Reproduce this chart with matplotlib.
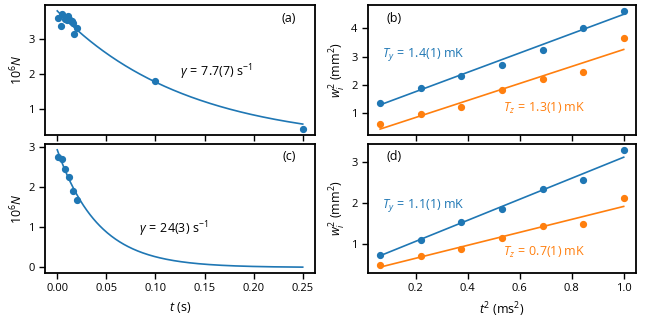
import numpy as np
import matplotlib
matplotlib.use('Agg')
import matplotlib.pyplot as plt

plt.rcParams['font.family'] = ['Open Sans', 'DejaVu Sans']
plt.rcParams['mathtext.fontset'] = 'custom'
plt.rcParams['mathtext.rm'] = 'Open Sans'
plt.rcParams['mathtext.it'] = 'Open Sans:italic'
plt.rcParams['font.size'] = 8

BLUE = '#1f77b4'
ORANGE = '#ff7f0e'

# panel (a): atom number decay
t_a = [0.001, 0.0034, 0.005, 0.008, 0.0095, 0.011, 0.012, 0.0135, 0.015, 0.016, 0.0172, 0.0197, 0.1, 0.25]
n_a = [3.61, 3.37, 3.70, 3.56, 3.55, 3.66, 3.58, 3.52, 3.50, 3.44, 3.14, 3.30, 1.78, 0.41]
amp_a, gamma_a = 3.8, 7.7

# panel (c)
t_c = [0.0005, 0.0045, 0.008, 0.012, 0.0165, 0.0205]
n_c = [2.73, 2.69, 2.45, 2.24, 1.91, 1.675]
amp_c, gamma_c = 2.92, 24.0

# panels (b), (d): cloud width squared vs t^2
t2 = [0.0625, 0.21875, 0.375, 0.53125, 0.6875, 0.84375, 1.0]
wy_b = [1.38, 1.90, 2.32, 2.71, 3.23, 4.01, 4.61]
wz_b = [0.62, 0.98, 1.23, 1.82, 2.20, 2.47, 3.67]
fit_y_b = (1.09, 3.40)  # intercept, slope
fit_z_b = (0.263, 2.99)

wy_d = [0.73, 1.08, 1.54, 1.84, 2.34, 2.55, 3.30]
wz_d = [0.48, 0.69, 0.86, 1.13, 1.42, 1.47, 2.11]
fit_y_d = (0.539, 2.58)
fit_z_d = (0.321, 1.59)

fig = plt.figure(figsize=(6.5, 3.25), dpi=100)
ax_a = fig.add_axes([0.0692, 0.5846, 0.4154, 0.4])
ax_c = fig.add_axes([0.0692, 0.16, 0.4154, 0.397], sharex=ax_a)
ax_b = fig.add_axes([0.566, 0.5846, 0.4123, 0.4])
ax_d = fig.add_axes([0.566, 0.16, 0.4123, 0.397], sharex=ax_b)

t_fit = np.linspace(0, 0.25, 300)

def decay_panel(ax, t, n, amp, gamma, label, text, text_xy):
	ax.plot(t_fit, amp * np.exp(-gamma * t_fit), color=BLUE, lw=1.2)
	ax.plot(t, n, 'o', color=BLUE, ms=4.2)
	ax.text(0.93, 0.9, label, transform=ax.transAxes, ha='right', va='center', fontsize=9)
	ax.text(text_xy[0], text_xy[1], text, ha='left', va='center', fontsize=9)
	ax.set_ylabel(r'$10^6N$', fontsize=9, labelpad=2)

decay_panel(ax_a, t_a, n_a, amp_a, gamma_a, '(a)', r'$\gamma\,{=}\,7.7(7)\ \mathrm{s}^{-1}$', (0.125, 2.05))
decay_panel(ax_c, t_c, n_c, amp_c, gamma_c, '(c)', r'$\gamma\,{=}\,24(3)\ \mathrm{s}^{-1}$', (0.083, 0.95))
ax_c.set_xlabel(r'$t$ (s)', fontsize=9)
ax_a.set_yticks([1, 2, 3])
ax_c.set_yticks([0, 1, 2, 3])
ax_c.set_xticks([0, 0.05, 0.10, 0.15, 0.20, 0.25])
ax_c.set_xticklabels(['0.00', '0.05', '0.10', '0.15', '0.20', '0.25'])
plt.setp(ax_a.get_xticklabels(), visible=False)

def width_panel(ax, wy, wz, fy, fz, label, ty, tz, ty_xy, tz_xy):
	x = np.array(t2)
	ax.plot(x, fy[0] + fy[1] * x, color=BLUE, lw=1.2)
	ax.plot(x, fz[0] + fz[1] * x, color=ORANGE, lw=1.2)
	ax.plot(x, wy, 'o', color=BLUE, ms=4.2)
	ax.plot(x, wz, 'o', color=ORANGE, ms=4.2)
	ax.text(0.07, 0.9, label, transform=ax.transAxes, ha='left', va='center', fontsize=9)
	ax.text(ty_xy[0], ty_xy[1], ty, color=BLUE, ha='left', va='center', fontsize=9)
	ax.text(tz_xy[0], tz_xy[1], tz, color=ORANGE, ha='left', va='center', fontsize=9)
	ax.set_ylabel(r'$w_i^2$ (mm$^2$)', fontsize=9, labelpad=2)

width_panel(ax_b, wy_b, wz_b, fit_y_b, fit_z_b, '(b)',
	r'$T_y\,{=}\,$1.4(1) mK', r'$T_z\,{=}\,$1.3(1) mK', (0.068, 3.09), (0.535, 1.17))
width_panel(ax_d, wy_d, wz_d, fit_y_d, fit_z_d, '(d)',
	r'$T_y\,{=}\,$1.1(1) mK', r'$T_z\,{=}\,$0.7(1) mK', (0.068, 1.93), (0.535, 0.77))
ax_d.set_xlabel(r'$t^2$ (ms$^2$)', fontsize=9)
ax_b.set_yticks([1, 2, 3, 4])
ax_d.set_yticks([1, 2, 3])
ax_d.set_xticks([0.2, 0.4, 0.6, 0.8, 1.0])
plt.setp(ax_b.get_xticklabels(), visible=False)

for ax in (ax_a, ax_b, ax_c, ax_d):
	for s in ax.spines.values():
		s.set_linewidth(1.3)
	ax.tick_params(direction='out', length=4, width=1, labelsize=8)

fig.savefig('out.png', dpi=100)
